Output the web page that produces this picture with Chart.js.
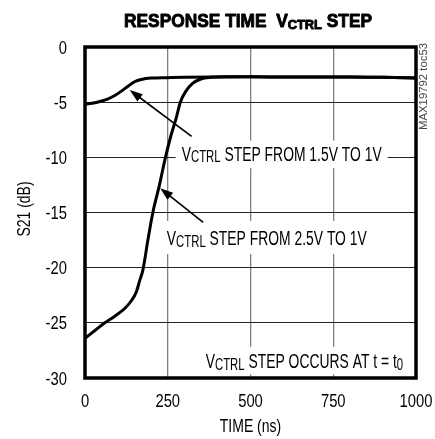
<!DOCTYPE html>
<html>
<head>
<meta charset="utf-8">
<script src="https://cdn.jsdelivr.net/npm/chart.js@4"></script>
<style>
  html, body { margin: 0; padding: 0; background: #fff; }
  #wrap { width: 435px; height: 439px; }
</style>
</head>
<body>
<div id="wrap"><canvas id="chart" width="435" height="439"></canvas></div>
<script>
// time axis (ns) and S21 (dB)
const timeStep1 = [0, 30, 50, 70, 90, 110, 130, 150, 170, 200, 250, 300, 400, 500, 600, 700, 800, 900, 1000];
const s21Step1 = [-5.2, -5.05, -4.9, -4.7, -4.4, -4.0, -3.55, -3.15, -2.95, -2.82, -2.78, -2.75, -2.72, -2.7, -2.72, -2.73, -2.72, -2.75, -2.8];

const timeStep2 = [0, 30, 60, 90, 120, 140, 155, 165, 175, 190, 205, 225, 243, 260, 275, 288, 305, 325, 350, 380, 420, 500, 600, 700, 800, 900, 1000];
const s21Step2 = [-26.4, -25.7, -25.0, -24.4, -23.7, -23.0, -22.2, -21.2, -20.2, -17.5, -15.0, -12.5, -10.0, -8.0, -6.5, -5.0, -4.0, -3.3, -2.9, -2.75, -2.7, -2.7, -2.72, -2.73, -2.72, -2.75, -2.8];

const xTicks = [0, 250, 500, 750, 1000];
const yTicks = [0, -5, -10, -15, -20, -25, -30];

const FONT = "'Liberation Sans', Arial, sans-serif";

function toXY(xs, ys) {
  return xs.map((x, i) => ({ x: x, y: ys[i] }));
}

// st = { size, weight, sx (horizontal squeeze), sub (ratio), drop (px) }
function partFont(p, st) {
  return st.weight + ' ' + (p.sub ? st.size * st.sub : st.size) + 'px ' + FONT;
}

function richWidth(ctx, parts, st) {
  let w = 0;
  parts.forEach(p => {
    ctx.font = partFont(p, st);
    w += ctx.measureText(p.t).width * st.sx;
  });
  return w;
}

// draws text on baseline y, subscript pieces smaller and lower
function drawRich(ctx, parts, x, y, st, align) {
  const total = richWidth(ctx, parts, st);
  let cx = align === 'right' ? x - total : align === 'center' ? x - total / 2 : x;
  ctx.textBaseline = 'alphabetic';
  ctx.textAlign = 'left';
  parts.forEach(p => {
    ctx.font = partFont(p, st);
    const w = ctx.measureText(p.t).width;
    ctx.save();
    ctx.translate(cx, p.sub ? y + st.drop : y);
    ctx.scale(st.sx, 1);
    if (st.stroke) {
      ctx.lineWidth = st.stroke;
      ctx.strokeStyle = ctx.fillStyle;
      ctx.lineJoin = 'round';
      ctx.strokeText(p.t, 0, 0);
    }
    ctx.fillText(p.t, 0, 0);
    ctx.restore();
    cx += w * st.sx;
  });
  return total;
}

function arrow(ctx, x0, y0, x1, y1) {
  const ang = Math.atan2(y1 - y0, x1 - x0);
  const len = 13, half = 4.5;
  ctx.strokeStyle = '#000';
  ctx.lineWidth = 1.6;
  ctx.beginPath();
  ctx.moveTo(x0, y0);
  ctx.lineTo(x1 - Math.cos(ang) * len * 0.8, y1 - Math.sin(ang) * len * 0.8);
  ctx.stroke();
  ctx.fillStyle = '#000';
  ctx.beginPath();
  ctx.moveTo(x1, y1);
  ctx.lineTo(x1 - Math.cos(ang) * len - Math.sin(ang) * half, y1 - Math.sin(ang) * len + Math.cos(ang) * half);
  ctx.lineTo(x1 - Math.cos(ang) * len + Math.sin(ang) * half, y1 - Math.sin(ang) * len - Math.cos(ang) * half);
  ctx.closePath();
  ctx.fill();
}

const V = { t: 'V' }, CTRL = { t: 'CTRL', sub: true };
const noteStep1 = [V, CTRL, { t: ' STEP FROM 1.5V TO 1V' }];
const noteStep2 = [V, CTRL, { t: ' STEP FROM 2.5V TO 1V' }];
const noteStart = [V, CTRL, { t: ' STEP OCCURS AT t = t' }, { t: '0', sub: true }];
const titleParts = [{ t: 'RESPONSE TIME  V' }, CTRL, { t: ' STEP' }];

const tickStyle = { size: 18.5, weight: 'normal', sx: 0.8, sub: 1, drop: 0 };
const axisStyle = { size: 17.5, weight: 'normal', sx: 0.8, sub: 1, drop: 0 };

const labelsPlugin = {
  id: 'labels',
  afterDatasetsDraw(c) {
    const ctx = c.ctx;
    const xs = c.scales.x, ys = c.scales.y;
    const a = c.chartArea;
    ctx.save();
    // squeeze so the 2.5V note is as wide as in the original (200px)
    const noteStyle = { size: 19.5, weight: 'normal', sx: 1, sub: 0.82, drop: 1.5 };
    noteStyle.sx = 200 / richWidth(ctx, noteStep2, noteStyle);
    // box = [left pad, right pad, top offset, bottom offset] around the baseline
    const notes = [
      { parts: noteStep1, t: 292, y: 160.7, align: 'left', box: [-6, 6, -20, 7.5] },
      { parts: noteStep2, t: 247, y: 245, align: 'left', box: [-4, 5, -24, 9] },
      { parts: noteStart, t: 961, y: 368.3, align: 'right', box: [-5, 5, -21.5, 6] },
    ];
    notes.forEach(n => {
      const px = xs.getPixelForValue(n.t);
      const w = richWidth(ctx, n.parts, noteStyle);
      const left = n.align === 'right' ? px - w : px;
      ctx.fillStyle = '#fff';
      ctx.fillRect(left + n.box[0], n.y + n.box[2], w - n.box[0] + n.box[1], n.box[3] - n.box[2]);
      ctx.fillStyle = '#000';
      drawRich(ctx, n.parts, px, n.y, noteStyle, n.align);
    });
    // arrows from labels to the curves
    arrow(ctx, xs.getPixelForValue(322), ys.getPixelForValue(-8.1), xs.getPixelForValue(135), ys.getPixelForValue(-3.9));
    arrow(ctx, xs.getPixelForValue(357), ys.getPixelForValue(-15.9), xs.getPixelForValue(227), ys.getPixelForValue(-12.8));
    // frame
    ctx.strokeStyle = '#000';
    ctx.lineWidth = 3.5;
    ctx.strokeRect(a.left, a.top, a.right - a.left, a.bottom - a.top);
    ctx.restore();
  },
  afterDraw(c) {
    const ctx = c.ctx;
    const xs = c.scales.x, ys = c.scales.y;
    ctx.save();
    ctx.fillStyle = '#000';
    // tick labels from the axes
    xs.ticks.forEach(tk => {
      drawRich(ctx, [{ t: String(tk.value) }], xs.getPixelForValue(tk.value), 406.5, tickStyle, 'center');
    });
    ys.ticks.forEach(tk => {
      drawRich(ctx, [{ t: String(tk.value) }], 67, ys.getPixelForValue(tk.value) + 6.6, tickStyle, 'right');
    });
    // axis titles
    drawRich(ctx, [{ t: 'TIME (ns)' }], (c.chartArea.left + c.chartArea.right) / 2, 431.5, axisStyle, 'center');
    ctx.save();
    ctx.translate(30, 209);
    ctx.rotate(-Math.PI / 2);
    drawRich(ctx, [{ t: 'S21 (dB)' }], 0, 0, axisStyle, 'center');
    ctx.restore();
    // chart title, heavy condensed look, 250px wide in the original
    const titleStyle = { size: 18.5, weight: 'bold', sx: 1, sub: 0.74, drop: 2.6, stroke: 0.9 };
    titleStyle.sx = 248 / richWidth(ctx, titleParts, titleStyle);
    drawRich(ctx, titleParts, 248, 26.7, titleStyle, 'center');
    // side tag
    ctx.translate(427, 130);
    ctx.rotate(-Math.PI / 2);
    ctx.font = '10px ' + FONT;
    const tag = 'MAX19792 toc53';
    const tw = ctx.measureText(tag).width;
    ctx.scale(87 / tw, 1);
    ctx.fillStyle = '#444';
    ctx.textAlign = 'left';
    ctx.textBaseline = 'alphabetic';
    ctx.fillText(tag, 0, 0);
    ctx.restore();
  }
};

const ctx = document.getElementById('chart');
const chart = new Chart(ctx, {
  type: 'line',
  data: {
    datasets: [
      {
        label: 'VCTRL step from 1.5V to 1V',
        data: toXY(timeStep1, s21Step1),
        borderColor: '#000',
        borderWidth: 3,
        pointRadius: 0,
        cubicInterpolationMode: 'monotone',
      },
      {
        label: 'VCTRL step from 2.5V to 1V',
        data: toXY(timeStep2, s21Step2),
        borderColor: '#000',
        borderWidth: 3,
        pointRadius: 0,
        cubicInterpolationMode: 'monotone',
      },
    ],
  },
  options: {
    responsive: false,
    animation: false,
    layout: {
      padding: { top: 47, right: 19, left: 0, bottom: 0 },
    },
    scales: {
      x: {
        type: 'linear',
        min: 0,
        max: 1000,
        afterBuildTicks: (s) => { s.ticks = xTicks.map(v => ({ value: v })); },
        afterFit: (s) => { s.height = 61; },
        border: { display: false },
        grid: { color: '#808080', lineWidth: 1.3, drawTicks: false },
        ticks: { display: false },
      },
      y: {
        type: 'linear',
        min: -30,
        max: 0,
        afterBuildTicks: (s) => { s.ticks = yTicks.map(v => ({ value: v })); },
        afterFit: (s) => { s.width = 85; },
        border: { display: false },
        grid: { color: '#222', lineWidth: 1, drawTicks: false },
        ticks: { display: false },
      },
    },
    plugins: {
      legend: { display: false },
      tooltip: { enabled: false },
    },
  },
  plugins: [labelsPlugin],
});
</script>
</body>
</html>
